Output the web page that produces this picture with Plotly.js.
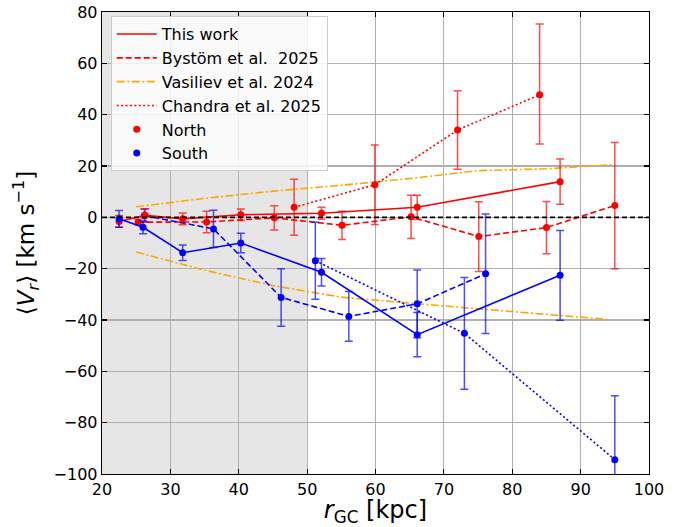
<!DOCTYPE html>
<html><head><meta charset="utf-8">
<script src="https://cdn.plot.ly/plotly-3.0.1.min.js"></script>
<style>html,body{margin:0;padding:0;background:#fff}#chart{width:689px;height:527px}</style>
</head><body><div id="chart"></div>
<script>
// This work
const twX_N = [22.5, 26.3, 31.8, 40.3, 52.1, 66.1, 87.0];
const twY_N = [-1.6, 0.8, -0.6, 1.0, 1.6, 3.9, 13.9];
const twE_N = [2.3, 2.5, 2.3, 2.2, 2.3, 4.7, 8.8];
const twX_S = [22.5, 26.0, 31.8, 40.3, 52.1, 66.1, 87.0];
const twY_S = [-0.6, -3.9, -13.8, -10.0, -21.4, -45.7, -22.6];
const twE_S = [3.3, 2.5, 3.0, 3.8, 5.4, 8.6, 17.5];
// Byström et al. 2025
const byX_N = [25.3, 35.3, 45.2, 55.1, 65.2, 75.1, 85.0, 95.0];
const byY_N = [-1.9, -1.8, -0.2, -3.1, 0.2, -7.5, -4.0, 4.6];
const byE_N = [1.1, 4.2, 4.7, 5.5, 8.4, 13.6, 10.2, 24.6];
const byX_S = [26.2, 36.3, 46.2, 56.1, 66.1, 76.1];
const byY_S = [0.7, -4.5, -31.2, -38.6, -33.7, -22.0];
const byE_S = [2.5, 7.3, 11.2, 9.7, 13.2, 23.3];
// Chandra et al. 2025
const chX_N = [48.1, 59.9, 72.0, 84.0];
const chY_N = [3.9, 12.7, 34.0, 47.8];
const chEp_N = [10.9, 15.5, 15.3, 27.5];
const chEm_N = [10.9, 15.5, 15.3, 19.2];
const chX_S = [51.2, 73.0, 95.0];
const chY_S = [-16.9, -45.2, -94.4];
const chE_S = [15.0, 21.8, 24.9];
// Vasiliev et al. 2024
const vaX = [25, 35, 45, 55, 65, 75, 85, 94.5];
const vaY_N = [4.1, 7.4, 10.2, 12.5, 15.1, 18.2, 18.9, 20.5];
const vaY_S = [-13.5, -20.6, -26.6, -31.1, -33.4, -35.6, -37.7, -39.9];
// reference line and shaded region
const zeroX = [20, 100];
const zeroY = [0, 0];
const shadeX = [20, 50];

const RED = '#ff0000', BLUE = '#0000ff', ORANGE = '#ffa500';
const RED_E = 'rgba(255,0,0,0.7)', BLUE_E = 'rgba(0,0,255,0.7)';
const LW = 1.6, MS = 7;
const DASH = '6px,3px', DOT = '2px,2.4px', DASHDOT = '8px,2.5px,2px,2.5px';

function err(arr, color, minus) {
  const e = {type: 'data', array: arr, color: color, thickness: 1.5, width: 4, visible: true};
  if (minus) { e.symmetric = false; e.arrayminus = minus; }
  return e;
}
function series(x, y, color, dash, e) {
  return {x: x, y: y, type: 'scatter', mode: 'lines+markers', showlegend: false,
    line: {color: color, width: LW, dash: dash}, marker: {color: color, size: MS},
    error_y: e, hoverinfo: 'skip'};
}

const traces = [
  {x: vaX, y: vaY_N, type: 'scatter', mode: 'lines', showlegend: false, line: {color: ORANGE, width: LW, dash: DASHDOT}},
  {x: vaX, y: vaY_S, type: 'scatter', mode: 'lines', showlegend: false, line: {color: ORANGE, width: LW, dash: DASHDOT}},
  series(byX_N, byY_N, RED, DASH, err(byE_N, RED_E)),
  series(byX_S, byY_S, BLUE, DASH, err(byE_S, BLUE_E)),
  series(twX_N, twY_N, RED, 'solid', err(twE_N, RED_E)),
  series(twX_S, twY_S, BLUE, 'solid', err(twE_S, BLUE_E)),
  series(chX_N, chY_N, RED, DOT, err(chEp_N, RED_E, chEm_N)),
  series(chX_S, chY_S, BLUE, DOT, err(chE_S, BLUE_E)),
  {x: zeroX, y: zeroY, type: 'scatter', mode: 'lines', showlegend: false, line: {color: 'black', width: LW, dash: '5px,3px'}},
  // legend entries
  {x: [null], y: [null], type: 'scatter', mode: 'lines', name: 'This work', line: {color: RED, width: LW}},
  {x: [null], y: [null], type: 'scatter', mode: 'lines', name: 'Bystöm et al.\u00a0 2025', line: {color: RED, width: LW, dash: DASH}},
  {x: [null], y: [null], type: 'scatter', mode: 'lines', name: 'Vasiliev et al. 2024', line: {color: ORANGE, width: LW, dash: DASHDOT}},
  {x: [null], y: [null], type: 'scatter', mode: 'lines', name: 'Chandra et al. 2025', line: {color: RED, width: LW, dash: DOT}},
  {x: [null], y: [null], type: 'scatter', mode: 'markers', name: 'North', marker: {color: RED, size: MS}},
  {x: [null], y: [null], type: 'scatter', mode: 'markers', name: 'South', marker: {color: BLUE, size: MS}}
];

const FONT = 'DejaVu Sans, sans-serif';
const axisCommon = {
  showline: true, linecolor: 'black', linewidth: 1.3, mirror: 'ticks',
  ticks: 'inside', ticklen: 5, tickwidth: 1.2, tickcolor: 'black',
  showgrid: true, gridcolor: '#b0b0b0', gridwidth: 1.2, zeroline: false,
  tickfont: {family: FONT, size: 16, color: 'black'}
};

const layout = {
  width: 689, height: 527,
  margin: {l: 102, r: 40, t: 12, b: 53},
  paper_bgcolor: 'white', plot_bgcolor: 'white',
  font: {family: FONT, color: 'black'},
  xaxis: Object.assign({}, axisCommon, {range: [20, 100], dtick: 10, tick0: 20,
    title: {text: '<i>r</i><sub>GC</sub> [kpc]', font: {family: FONT, size: 24, color: 'black'}, standoff: 8}}),
  yaxis: Object.assign({}, axisCommon, {range: [-100, 80], dtick: 20, tick0: 0,
    title: {text: '⟨<i>V<sub>r</sub></i>⟩ [km s<sup>−1</sup>]', font: {family: FONT, size: 23, color: 'black'}, standoff: 12}}),
  shapes: [{type: 'rect', xref: 'x', yref: 'paper', x0: shadeX[0], x1: shadeX[1], y0: 0, y1: 1,
    fillcolor: 'rgba(128,128,128,0.2)', line: {width: 0}, layer: 'below'}],
  showlegend: true,
  legend: {x: 0.016, y: 0.991, xanchor: 'left', yanchor: 'top', itemwidth: 40,
    bgcolor: 'rgba(255,255,255,0.8)', bordercolor: '#cccccc', borderwidth: 1,
    font: {family: FONT, size: 16, color: 'black'}, tracegroupgap: 0}
};

Plotly.newPlot('chart', traces, layout, {displayModeBar: false, staticPlot: true});
</script>
</body></html>
